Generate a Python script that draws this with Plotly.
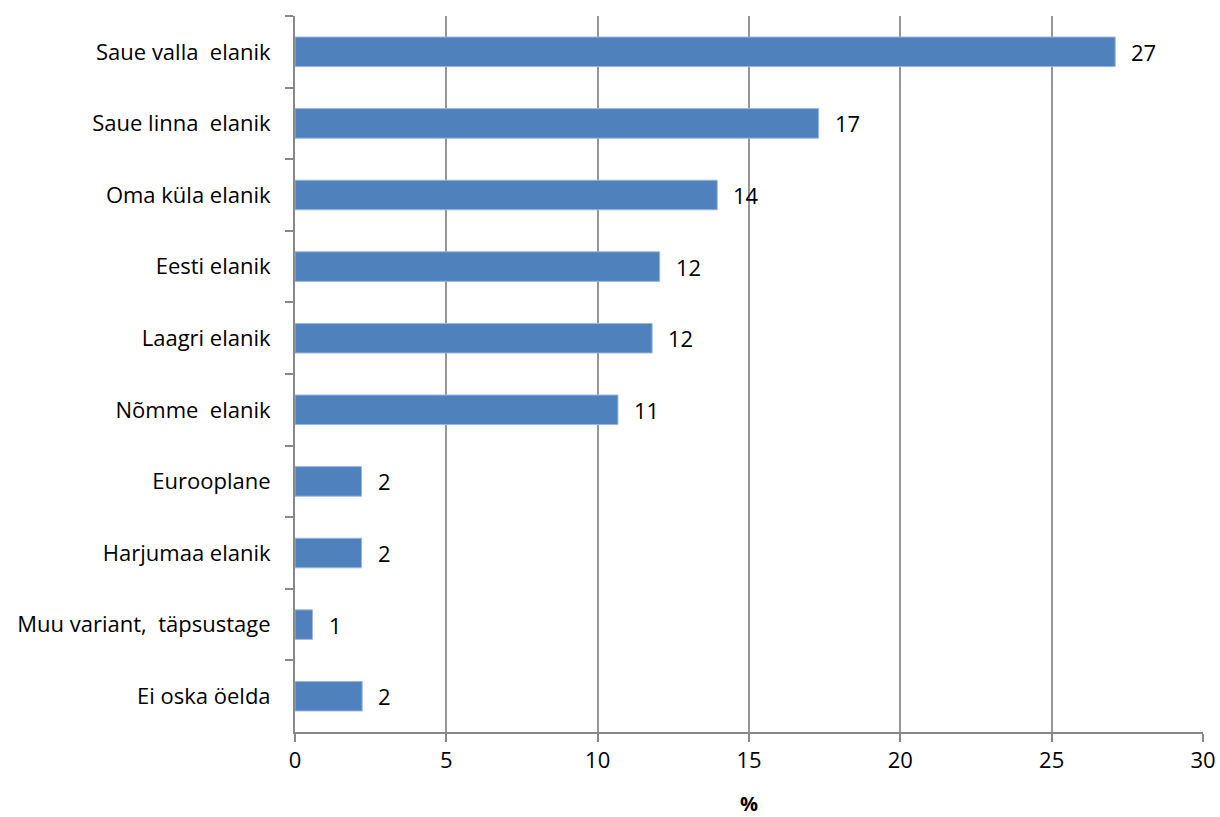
import plotly.graph_objects as go

categories = ["Saue valla  elanik", "Saue linna  elanik", "Oma küla elanik", "Eesti elanik",
              "Laagri elanik", "Nõmme  elanik", "Eurooplane", "Harjumaa elanik",
              "Muu variant,  täpsustage", "Ei oska öelda"]
values = [27.1, 17.3, 13.95, 12.05, 11.8, 10.67, 2.2, 2.2, 0.58, 2.22]
labels = ["27", "17", "14", "12", "12", "11", "2", "2", "1", "2"]
x_ticks = [0, 5, 10, 15, 20, 25, 30]

FONT = "Open Sans"
FS = 22

fig = go.Figure()
fig.add_trace(go.Bar(
    y=categories, x=values, orientation="h",
    marker=dict(color="#4F81BD", line=dict(color="#9DB8DC", width=1)),
    hoverinfo="x+y",
))

for c, v, t in zip(categories, values, labels):
    fig.add_annotation(x=v, y=c, text=t, showarrow=False, xanchor="left",
                       yanchor="middle", xshift=14,
                       font=dict(family=FONT, size=FS, color="#000000"))

fig.update_layout(
    width=1220, height=817,
    margin=dict(l=295, r=17, t=16, b=85),
    paper_bgcolor="white", plot_bgcolor="white",
    bargap=0.587,
    showlegend=False,
    font=dict(family=FONT, size=FS, color="#000000"),
)
fig.update_xaxes(
    range=[0, 30], tickvals=x_ticks, ticktext=[str(v) for v in x_ticks],
    showgrid=True, gridcolor="#969696", gridwidth=1.5,
    showline=True, linecolor="#888888", linewidth=2,
    ticks="outside", ticklen=8, tickcolor="#888888", tickwidth=1.5,
    zeroline=False, ticklabeloverflow="allow", automargin=False,
    title=dict(text="<b>%</b>", font=dict(family=FONT, size=20), standoff=28),
    tickfont=dict(family=FONT, size=FS),
)
fig.update_yaxes(
    autorange="reversed", type="category", automargin=False,
    showline=True, linecolor="#888888", linewidth=2,
    ticks="outside", ticklen=8, tickcolor="#888888", tickwidth=1.5,
    tickson="boundaries", showgrid=False,
    ticklabelstandoff=18,
    tickfont=dict(family=FONT, size=FS),
)

fig.write_html("out.html",
               config={"displayModeBar": False},
               post_script="document.body.style.margin='0';document.body.style.overflow='hidden';")
